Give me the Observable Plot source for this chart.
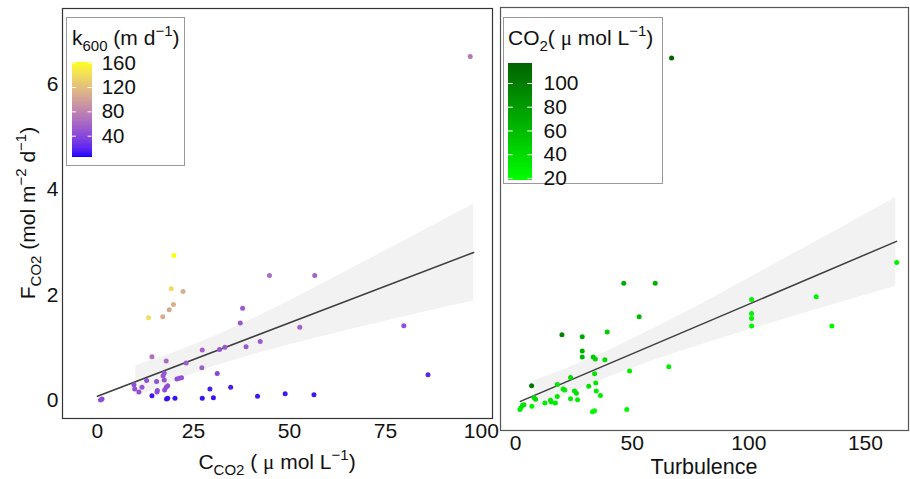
<!DOCTYPE html>
<html><head><meta charset="utf-8">
<script src="https://cdn.jsdelivr.net/npm/d3@7"></script>
<script src="https://cdn.jsdelivr.net/npm/@observablehq/plot@0.6"></script>
<style>
body{margin:0;background:#fff;font-family:"Liberation Sans",Arial,sans-serif;}
#wrap{position:relative;width:910px;height:479px;overflow:hidden;background:#fff}
.abs{position:absolute;overflow:visible}
.legend{position:absolute;background:#fff;border:1px solid #9a9a9a;box-sizing:border-box;overflow:visible}
svg{overflow:visible}
</style></head><body><div id="wrap"></div>
<script>
// ---------- Left panel: F_CO2 vs C_CO2, coloured by k600 ----------
const leftCO2 = [0.8,1.2,9.5,9.7,11.6,10.8,12.8,15.4,15.6,15.5,17.4,17.4,17.1,17.9,18.3,17.5,20.7,21.3,21.9,14.2,17.9,23.1,27.2,27.3,31.8,33.2,31.2,38.7,42.4,37.8,37.2,52.7,44.8,56.6,79.8,97.1,19.9,19.2,22.3,19.8,18.7,13.3,17.0,14.2,18.0,18.3,20.2,27.3,30.2,29.3,34.7,41.7,48.9,56.4,86.1];
const leftF   = [0.01,0.03,0.30,0.22,0.25,0.16,0.38,0.36,0.19,0.16,0.39,0.52,0.47,0.25,0.28,0.20,0.41,0.42,0.43,0.83,0.75,0.71,0.62,0.96,0.97,1.01,0.51,1.02,1.12,1.75,1.47,1.39,2.37,2.37,1.42,6.53,2.75,2.12,2.07,1.82,1.72,1.57,1.59,0.09,0.03,0.04,0.04,0.04,0.05,0.22,0.25,0.08,0.13,0.11,0.49];
const leftK   = [45,43,45,45,49,46,45,45,43,43,46,49,49,45,45,45,46,46,46,66,63,52,54,56,49,49,39,52,52,52,49,56,64,57,44,72,161,138,108,108,104,140,106,12,10,10,10,10,10,14,14,12,12,12,20];
const kDomain = [4.8, 161.6];
const kTicks  = [40, 80, 120, 160];
const leftXTicks = [0, 25, 50, 75, 100];
const leftYTicks = [0, 2, 4, 6];
const fitLx = [0, 98];
const fitLy = [0.08, 2.81];
const ribLx  = [10,20,30,40,50,60,70,80,90,98];
const ribLlo = [0.06,0.37,0.64,0.86,1.06,1.24,1.42,1.59,1.76,1.89];
const ribLhi = [0.66,0.91,1.20,1.53,1.89,2.27,2.65,3.03,3.42,3.73];

// ---------- Right panel: F_CO2 vs Turbulence, coloured by CO2 ----------
const rightTurb = [46.4,59.9,53.0,39.3,19.9,28.6,28.6,28.6,33.3,34.2,38.3,48.9,65.7,33.9,23.6,6.9,17.9,31.4,34.4,20.4,21.1,25.3,26.1,34.6,36.4,17.9,7.9,8.6,12.6,15.0,15.4,17.1,23.6,26.6,7.0,1.9,2.4,3.0,3.6,33.0,33.9,47.7,101.2,101.2,101.2,101.2,128.9,135.6,163.4,66.9];
const rightF    = [2.31,2.31,1.69,1.41,1.36,1.32,1.06,0.95,0.95,0.91,0.90,0.69,0.77,0.64,0.57,0.42,0.44,0.41,0.47,0.36,0.34,0.32,0.28,0.32,0.24,0.22,0.20,0.17,0.10,0.15,0.12,0.10,0.18,0.16,0.04,-0.02,0.02,0.06,0.07,-0.06,-0.04,-0.02,2.01,1.75,1.66,1.52,2.06,1.52,2.69,6.46];
const rightCO2  = [70,65,60,50,95,72,65,62,50,45,40,28,28,32,38,105,32,35,32,30,30,35,35,30,28,30,40,40,28,30,30,30,28,28,25,30,32,35,35,22,22,22,25,25,25,25,25,25,25,115];
const cDomain = [18.3, 116.8];
const cTicks  = [20, 40, 60, 80, 100];
const rightXTicks = [0, 50, 100, 150];
const fitRx = [2.1, 163.3];
const fitRy = [0.13, 3.08];
const ribRx  = [8,20,40,60,80,100,120,140,163];
const ribRlo = [-0.03,0.21,0.58,0.90,1.18,1.45,1.71,1.96,2.25];
const ribRhi = [0.51,0.70,1.07,1.49,1.93,2.40,2.87,3.34,3.89];

// ---------- build tables ----------
const ptsL = leftCO2.map((x,i)=>({x, y:leftF[i], c:leftK[i]}));
const ptsR = rightTurb.map((x,i)=>({x, y:rightF[i], c:rightCO2[i]}));
const ribL = ribLx.map((x,i)=>({x, lo:ribLlo[i], hi:ribLhi[i]}));
const ribR = ribRx.map((x,i)=>({x, lo:ribRlo[i], hi:ribRhi[i]}));
const fitL = fitLx.map((x,i)=>({x, y:fitLy[i]}));
const fitR = fitRx.map((x,i)=>({x, y:fitRy[i]}));

const FONT = "Liberation Sans, Arial, sans-serif";
const baseStyle = {fontFamily: FONT, fontSize: "21px", color: "#111", background: "transparent", overflow: "visible"};
const colK = {type:"linear", domain:kDomain, range:["#0000ff","#ffff00"], interpolate:"lab"};
const colC = {type:"linear", domain:cDomain, range:["#00ff00","#006400"], interpolate:"lab"};

const wrap = d3.select("#wrap");

function place(node, left, top, parent) {
  node.classList.add("abs");
  node.style.left = left + "px"; node.style.top = top + "px";
  (parent || wrap.node()).appendChild(node);
}

// rich text helper: parts = [[text, kind]] kind: n (normal), sub, sup, mu
function richText(sel, parts, size) {
  const small = Math.round(size * 0.72);
  let shift = 0;
  parts.forEach(([t, kind]) => {
    let target = kind === "sub" ? size*0.28 : kind === "sup" ? -size*0.42 : 0;
    const ts = sel.append("tspan").text(t).attr("dy", (target - shift).toFixed(1));
    shift = target;
    if (kind === "sub" || kind === "sup") ts.attr("font-size", small);
    if (kind === "mu") ts.attr("font-family", "Liberation Serif, DejaVu Serif, serif");
  });
}

// ---------- Left panel ----------
const left = Plot.plot({
  width: 495, height: 479,
  marginLeft: 62, marginRight: 3, marginTop: 8, marginBottom: 61,
  style: baseStyle,
  x: {domain: [-9.1, 102.9]},
  y: {domain: [-0.342, 7.44]},
  color: colK,
  marks: [
    Plot.areaY(ribL, {x:"x", y1:"lo", y2:"hi", fill:"#f2f2f2"}),
    Plot.line(fitL, {x:"x", y:"y", stroke:"#3d3d3d", strokeWidth:1.5}),
    Plot.dot(ptsL, {x:"x", y:"y", fill:"c", r:2.5}),
    Plot.axisX({ticks:leftXTicks, tickSize:0, tickPadding:5, label:null}),
    Plot.axisY({ticks:leftYTicks, tickSize:0, tickPadding:4, label:null}),
    Plot.frame({stroke:"#333", strokeWidth:1.2})
  ]
});
place(left, 0, 0);
const ls = d3.select(left);
richText(ls.append("text").attr("x", 277).attr("y", 469).attr("text-anchor","middle")
  .attr("font-size", 21).attr("fill","#111"),
  [["C","n"],["CO2","sub"],[" ( ","n"],["μ","mu"],[" mol L","n"],["−1","sup"],[")","n"]], 21);
richText(ls.append("text").attr("transform","translate(35,213) rotate(-90)").attr("text-anchor","middle")
  .attr("font-size", 21).attr("fill","#111"),
  [["F","n"],["CO2","sub"],[" (mol m","n"],["−2","sup"],[" d","n"],["−1","sup"],[")","n"]], 21);

// ---------- Right panel ----------
const right = Plot.plot({
  width: 415, height: 479,
  marginLeft: 5, marginRight: 2, marginTop: 7, marginBottom: 49,
  style: baseStyle,
  x: {domain: [-6.43, 168.45]},
  y: {domain: [-0.406, 7.39], axis: null},
  color: colC,
  marks: [
    Plot.areaY(ribR, {x:"x", y1:"lo", y2:"hi", fill:"#f2f2f2"}),
    Plot.line(fitR, {x:"x", y:"y", stroke:"#3d3d3d", strokeWidth:1.5}),
    Plot.dot(ptsR, {x:"x", y:"y", fill:"c", r:2.5}),
    Plot.axisX({ticks:rightXTicks, tickSize:0, tickPadding:5, label:null}),
    Plot.frame({stroke:"#555", strokeWidth:1.2})
  ]
});
place(right, 495, 0);
d3.select(right).append("text").attr("x", 209).attr("y", 474).attr("text-anchor","middle")
  .attr("font-size", 21.5).attr("fill","#111").text("Turbulence");

// ---------- Legends ----------
function colorbar(domain, ticks, color, barW, barH, pad) {
  const n = 120, step = (domain[1]-domain[0]) / n;
  const cells = d3.range(n).map(i => ({y1: domain[0] + i*step, y2: domain[0] + (i+1)*step, v: domain[0] + (i+0.5)*step}));
  return Plot.plot({
    width: barW + 100, height: barH + 28,
    marginLeft: 0, marginRight: 100, marginTop: 14, marginBottom: 14,
    style: baseStyle,
    x: {domain: [0, 1], axis: null},
    y: {domain: domain},
    color: color,
    marks: [
      Plot.rect(cells, {x1: 0, x2: 1, y1: "y1", y2: "y2", fill: "v", inset: 0, shapeRendering: "crispEdges"}),
      Plot.ruleY(ticks, {x1: 0, x2: 0.2, stroke: "white", strokeWidth: 1}),
      Plot.ruleY(ticks, {x1: 0.8, x2: 1, stroke: "white", strokeWidth: 1}),
      Plot.axisY({anchor: "right", ticks: ticks, tickSize: 0, tickPadding: pad, label: null})
    ]
  });
}

function legend(boxL, boxT, boxW, boxH, titleParts, titleX, titleBase, domain, ticks, color, barX, barY, barW, barH, pad) {
  const div = document.createElement("div");
  div.className = "legend";
  Object.assign(div.style, {left: boxL+"px", top: boxT+"px", width: boxW+"px", height: boxH+"px"});
  wrap.node().appendChild(div);
  const ox = boxL + 1, oy = boxT + 1;
  const svg = d3.select(div).append("svg").attr("class","abs").attr("width", boxW).attr("height", 40)
    .style("left","-1px").style("top","-1px").style("position","absolute");
  richText(svg.append("text").attr("x", titleX - boxL).attr("y", titleBase - boxT)
    .attr("font-size", 21).attr("font-family", FONT).attr("fill","#111"), titleParts, 21);
  const cb = colorbar(domain, ticks, color, barW, barH, pad);
  cb.style.position = "absolute";
  cb.style.left = (barX - ox) + "px";
  cb.style.top = (barY - 14 - oy) + "px";
  div.appendChild(cb);
}

legend(66, 17, 119, 149,
  [["k","n"],["600","sub"],[" (m d","n"],["−1","sup"],[")","n"]], 72, 45,
  kDomain, kTicks, colK, 72, 62, 20, 98, 10);
legend(503, 17, 160, 167,
  [["CO","n"],["2","sub"],["( ","n"],["μ","mu"],[" mol L","n"],["−1","sup"],[")","n"]], 508, 45,
  cDomain, cTicks, colC, 508, 63, 24, 117, 11);
</script></body></html>
